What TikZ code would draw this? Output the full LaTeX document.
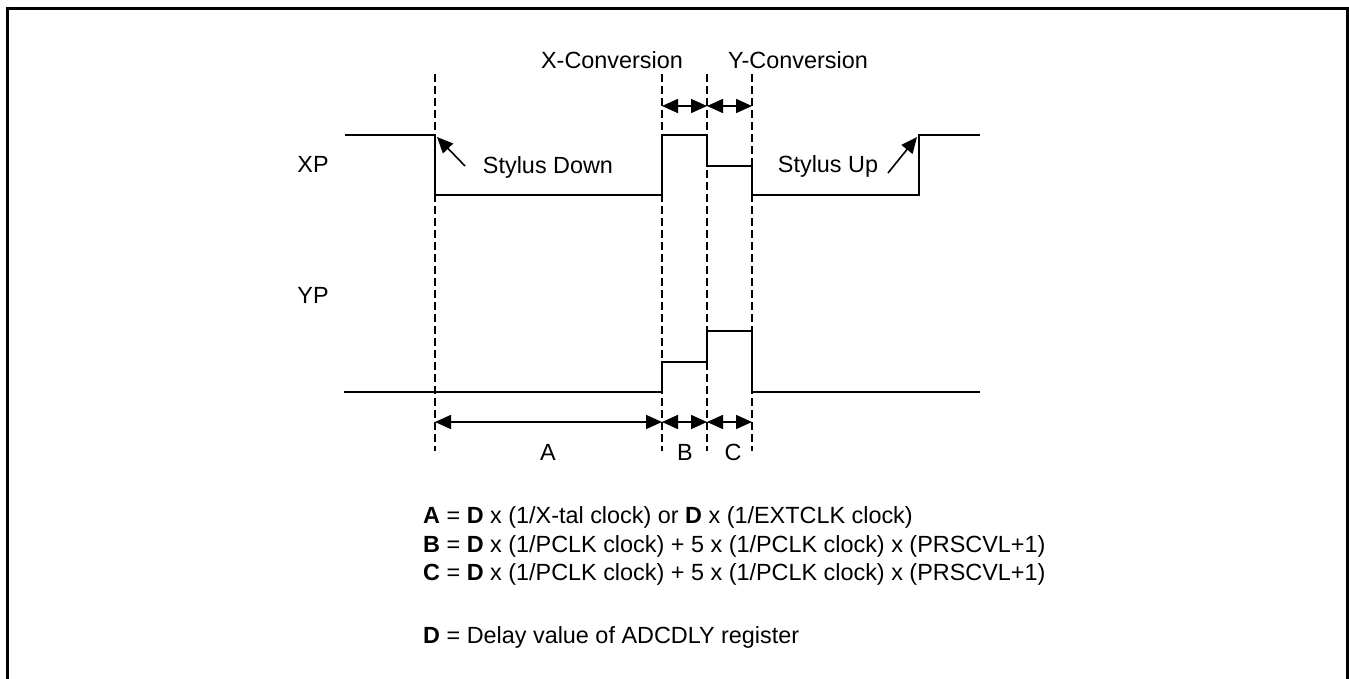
\documentclass[tikz,border=0pt]{standalone}
\usepackage{fontspec}
\setmainfont{Liberation Sans}
\usetikzlibrary{arrows.meta}
\begin{document}
\begin{tikzpicture}[x=1pt,y=-1pt,
  sig/.style={line width=1.6pt},
  guide/.style={line width=1.2pt, dash pattern=on 8pt off 4pt},
  dim/.style={line width=1.6pt, {Triangle[length=16pt,width=14pt]}-{Triangle[length=16pt,width=14pt]}},
  ptr/.style={line width=1.6pt, -{Triangle[length=16pt,width=14pt]}},
  lbl/.style={font=\fontsize{23.4}{26}\selectfont, anchor=base, inner sep=0pt},
  eq/.style={font=\fontsize{23.4}{26}\selectfont, anchor=base west, inner sep=0pt}]
\useasboundingbox (0,0) rectangle (1349,678);
\draw[line width=3pt] (7.5,700) -- (7.5,8.5) -- (1347.5,8.5) -- (1347.5,700);
% guide lines
\foreach \n/\x in {g1/435,g2/662,g3/707,g4/752}{
  \coordinate (\n t) at (\x,74);
  \coordinate (\n b) at (\x,451);
  \draw[guide] (\n t) -- (\n b);
  \coordinate (\n u) at (\x,106);
  \coordinate (\n d) at (\x,422);
}
% XP signal
\draw[sig] (345,135) -- (435,135) -- (435,195) -- (662,195) -- (662,135) -- (707,135)
  -- (707,166) -- (752,166) -- (752,195) -- (919,195) -- (919,135) -- (980,135);
% YP signal
\draw[sig] (344,392) -- (662,392) -- (662,362) -- (707,362) -- (707,331) -- (752,331)
  -- (752,392) -- (980,392);
% labels
\node[lbl] (xp) at (313,172) {XP};
\node[lbl] (yp) at (313,303) {YP};
\node[lbl] (xconv) at (612,68) {X-Conversion};
\node[lbl] (yconv) at (798,68) {Y-Conversion};
\node[lbl] (sdown) at (548,173) {Stylus Down};
\node[lbl] (sup) at (828,172) {Stylus Up};
\node[lbl] (la) at (548,460) {A};
\node[lbl] (lb) at (685,460) {B};
\node[lbl] (lc) at (733,460) {C};
% dimension arrows
\draw[dim] (g2u) -- (g3u);
\draw[dim] (g3u) -- (g4u);
\draw[dim] (g1d) -- (g2d);
\draw[dim] (g2d) -- (g3d);
\draw[dim] (g3d) -- (g4d);
% stylus pointers
\coordinate (sdtail) at (465,166);
\coordinate (sdtip) at (437,137);
\coordinate (sutail) at (888,173);
\coordinate (sutip) at (917,137);
\draw[ptr] (sdtail) -- (sdtip);
\draw[ptr] (sutail) -- (sutip);
% formulas
\node[eq] (fa) at (423,523) {\textbf{A} = \textbf{D} x (1/X-tal clock) or \textbf{D} x (1/EXTCLK clock)};
\node[eq] (fb) at (423,552) {\textbf{B} = \textbf{D} x (1/PCLK clock) + 5 x (1/PCLK clock) x (PRSCVL+1)};
\node[eq] (fc) at (423,580) {\textbf{C} = \textbf{D} x (1/PCLK clock) + 5 x (1/PCLK clock) x (PRSCVL+1)};
\node[eq] (fd) at (423,643) {\textbf{D} = Delay value of ADCDLY register};
\end{tikzpicture}
\end{document}
